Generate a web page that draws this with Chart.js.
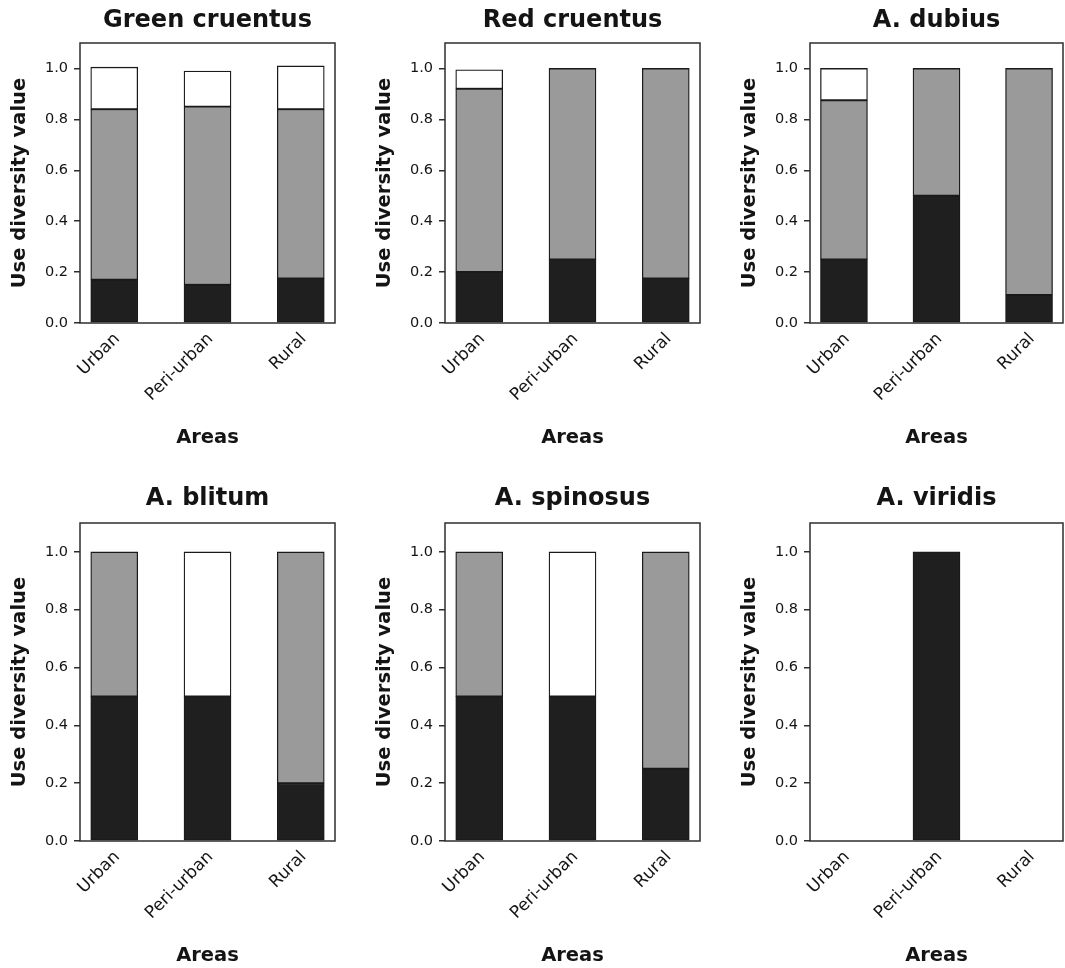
<!DOCTYPE html>
<html>
<head>
<meta charset="utf-8">
<script src="https://cdn.jsdelivr.net/npm/chart.js@4.4.1/dist/chart.umd.min.js"></script>
<style>
  html, body { margin: 0; padding: 0; background: #fff; }
  #wrap { position: relative; width: 1065px; height: 968px; background: #fff; overflow: hidden; }
  .panel { position: absolute; }
  .panel canvas { display: block; }
</style>
</head>
<body>
<div id="wrap"></div>
<script>
// Areas on the x axis and the y tick values
const areas = ['Urban', 'Peri-urban', 'Rural'];
const yTicks = [0, 0.2, 0.4, 0.6, 0.8, 1.0];

// Use diversity value per area, split into three stacked use groups
// (dark = bottom, grey = middle, white = top)
const greenCruentusDark  = [0.17, 0.15, 0.175];
const greenCruentusGrey  = [0.67, 0.70, 0.665];
const greenCruentusWhite = [0.165, 0.14, 0.17];

const redCruentusDark  = [0.20, 0.25, 0.175];
const redCruentusGrey  = [0.72, 0.75, 0.825];
const redCruentusWhite = [0.075, 0, 0];

const dubiusDark  = [0.25, 0.50, 0.11];
const dubiusGrey  = [0.625, 0.50, 0.89];
const dubiusWhite = [0.125, 0, 0];

const blitumDark  = [0.50, 0.50, 0.20];
const blitumGrey  = [0.50, 0, 0.80];
const blitumWhite = [0, 0.50, 0];

const spinosusDark  = [0.50, 0.50, 0.25];
const spinosusGrey  = [0.50, 0, 0.75];
const spinosusWhite = [0, 0.50, 0];

const viridisDark  = [0, 1.0, 0];
const viridisGrey  = [0, 0, 0];
const viridisWhite = [0, 0, 0];

const panels = [
  { title: 'Green cruentus', segs: [greenCruentusDark, greenCruentusGrey, greenCruentusWhite] },
  { title: 'Red cruentus',   segs: [redCruentusDark, redCruentusGrey, redCruentusWhite] },
  { title: 'A. dubius',      segs: [dubiusDark, dubiusGrey, dubiusWhite] },
  { title: 'A. blitum',      segs: [blitumDark, blitumGrey, blitumWhite] },
  { title: 'A. spinosus',    segs: [spinosusDark, spinosusGrey, spinosusWhite] },
  { title: 'A. viridis',     segs: [viridisDark, viridisGrey, viridisWhite] }
];

const SEG_FILL = ['#1f1f1f', '#9a9a9a', '#ffffff'];
const SEG_NAME = ['Group 1', 'Group 2', 'Group 3'];

// grid geometry: canvas boxes per column / row
const COLS = [
  { left: 0,   width: 345, yAxisW: 80, plotW: 255 },
  { left: 365, width: 345, yAxisW: 80, plotW: 255 },
  { left: 730, width: 335, yAxisW: 80, plotW: 253 }
];
const ROWS = [
  { top: 0,   height: 470, titleTop: 6.4,  titleBottom: 7.8,  xAxisH: 147, areasPad: 20 },
  { top: 470, height: 498, titleTop: 14.2, titleBottom: 10,   xAxisH: 127, areasPad: 0 }
];

const FONT = 'DejaVu Sans';
const INK = '#141414';

const framePlugin = {
  id: 'frame',
  afterDraw(chart) {
    const { ctx, chartArea: a } = chart;
    ctx.save();
    ctx.strokeStyle = '#2e2e2e';
    ctx.lineWidth = 1.5;
    ctx.strokeRect(a.left, a.top, a.right - a.left, a.bottom - a.top);
    ctx.restore();
  }
};

const wrap = document.getElementById('wrap');

panels.forEach((p, idx) => {
  const c = COLS[idx % 3];
  const r = ROWS[Math.floor(idx / 3)];
  const box = document.createElement('div');
  box.className = 'panel';
  box.style.left = c.left + 'px';
  box.style.top = r.top + 'px';
  const canvas = document.createElement('canvas');
  canvas.width = c.width;
  canvas.height = r.height;
  canvas.style.width = c.width + 'px';
  canvas.style.height = r.height + 'px';
  box.appendChild(canvas);
  wrap.appendChild(box);

  new Chart(canvas, {
    type: 'bar',
    data: {
      datasets: p.segs.map((vals, k) => ({
        label: SEG_NAME[k],
        data: vals.map((v, i) => ({ x: i, y: v > 0 ? v : null })),
        backgroundColor: SEG_FILL[k],
        borderColor: '#1a1a1a',
        borderWidth: 1.3,
        borderSkipped: false,
        barThickness: 47
      }))
    },
    options: {
      responsive: false,
      devicePixelRatio: 1,
      animation: false,
      layout: { padding: { left: 0, right: c.width - c.yAxisW - c.plotW, top: 0, bottom: 0 }, autoPadding: false },
      plugins: {
        legend: { display: false },
        tooltip: { enabled: false },
        title: {
          display: true,
          fullSize: false,
          text: p.title,
          color: INK,
          font: { family: FONT, weight: 'bold', size: 24, lineHeight: 1.2 },
          padding: { top: r.titleTop, bottom: r.titleBottom }
        }
      },
      scales: {
        x: {
          type: 'linear',
          min: -0.367,
          max: 2.367,
          stacked: true,
          offset: false,
          grid: { display: false, drawTicks: false },
          border: { display: false },
          afterBuildTicks: s => { s.ticks = areas.map((_, i) => ({ value: i })); },
          afterFit: s => { s.height = r.xAxisH; s.paddingLeft = 0; s.paddingRight = 0; },
          ticks: {
            autoSkip: false,
            minRotation: 45,
            maxRotation: 45,
            padding: 6,
            labelOffset: 3,
            color: INK,
            font: { family: FONT, size: 17 },
            callback: v => areas[v]
          },
          title: {
            display: true,
            text: 'Areas',
            color: INK,
            font: { family: FONT, weight: 'bold', size: 19.5, lineHeight: 1.2 },
            padding: { top: 0, bottom: r.areasPad }
          }
        },
        y: {
          min: 0,
          max: 1.1,
          stacked: true,
          afterBuildTicks: s => { s.ticks = yTicks.map(v => ({ value: v })); },
          afterFit: s => { s.width = c.yAxisW; s.paddingTop = 0; s.paddingBottom = 0; },
          grid: { display: true, drawOnChartArea: false, drawTicks: true, tickLength: 6, color: '#2e2e2e', lineWidth: 1.5 },
          border: { display: false },
          ticks: {
            padding: 6,
            color: INK,
            font: { family: FONT, size: 14.5 },
            callback: v => Number(v).toFixed(1)
          },
          title: {
            display: true,
            text: 'Use diversity value',
            color: INK,
            font: { family: FONT, weight: 'bold', size: 19.5, lineHeight: 1.2 },
            padding: { top: 7.8, bottom: 0 }
          }
        }
      }
    },
    plugins: [framePlugin]
  });
});
</script>
</body>
</html>
